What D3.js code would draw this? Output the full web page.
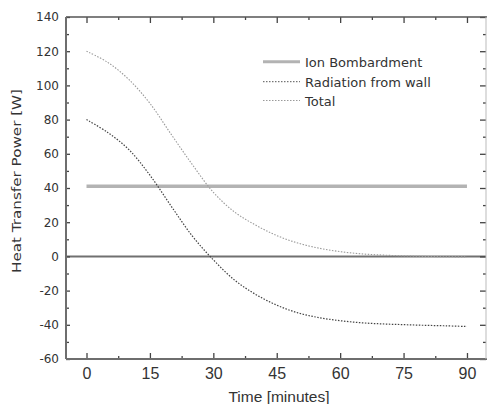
<!DOCTYPE html>
<html>
<head>
<meta charset="utf-8">
<script src="https://cdn.jsdelivr.net/npm/d3@7"></script>
<style>
  html, body { margin: 0; padding: 0; background: #fff; }
  svg { display: block; }
</style>
</head>
<body>
<svg id="chart" width="487" height="404"></svg>
<script>
// Heat transfer power during cool-down, sampled every 5 minutes
const minutes = [0, 5, 10, 15, 20, 25, 30, 35, 40, 45, 50, 55, 60, 65, 70, 75, 80, 85, 90];
const radiationFromWall = [80, 72.5, 62.5, 47.5, 29.5, 12, -2, -13.8, -22.2, -28.5, -33, -35.8, -37.6, -38.8, -39.5, -39.9, -40.3, -40.6, -41];
const totalPower = [120, 113.5, 103.5, 89.5, 71.5, 53.8, 37.5, 26, 18.3, 12.2, 7.8, 4.8, 2.8, 1.5, 0.8, 0.3, 0, -0.2, -0.3];
// Ion bombardment stays constant over the whole run
const ionMinutes = [0, 90];
const ionBombardment = [41, 41];

const xTicks = [0, 15, 30, 45, 60, 75, 90];
const xMinorTicks = [7.5, 22.5, 37.5, 52.5, 67.5, 82.5];
const yTicks = [-60, -40, -20, 0, 20, 40, 60, 80, 100, 120, 140];
const yMinorTicks = [-50, -30, -10, 10, 30, 50, 70, 90, 110, 130];
const legendLabels = ["Ion Bombardment", "Radiation from wall", "Total"];

const svg = d3.select("#chart");
const plotLeft = 66, plotRight = 486, plotTop = 17, plotBottom = 359;

const x = d3.scaleLinear().domain([-4.85, 94.5]).range([plotLeft, plotRight]);
const y = d3.scaleLinear().domain([-60, 140]).range([plotBottom, plotTop]);

const axisColor = "#6e6e6e";
const plainNumber = d => String(d);

// zero reference line
svg.append("line")
  .attr("x1", plotLeft).attr("x2", plotRight)
  .attr("y1", y(0)).attr("y2", y(0))
  .attr("stroke", "#707070").attr("stroke-width", 2);

// series
const line = d3.line().curve(d3.curveCatmullRom.alpha(0.5));

svg.append("path")
  .attr("d", line(ionMinutes.map((m, i) => [x(m), y(ionBombardment[i])])))
  .attr("fill", "none").attr("stroke", "#b3b3b3").attr("stroke-width", 3.5);

svg.append("path")
  .attr("d", line(minutes.map((m, i) => [x(m), y(totalPower[i])])))
  .attr("fill", "none").attr("stroke", "#9a9a9a").attr("stroke-width", 1.1)
  .attr("stroke-dasharray", "1.5,1.5");

svg.append("path")
  .attr("d", line(minutes.map((m, i) => [x(m), y(radiationFromWall[i])])))
  .attr("fill", "none").attr("stroke", "#444").attr("stroke-width", 1.2)
  .attr("stroke-dasharray", "1.5,1.5");

// axes with inward ticks
function styleAxis(g) {
  g.select(".domain").remove();
  g.selectAll(".tick line").attr("stroke", "#444").attr("stroke-width", 1.3);
}

const bottomAxis = svg.append("g").attr("transform", `translate(0,${plotBottom})`)
  .call(d3.axisBottom(x).tickValues(xTicks).tickSize(-6).tickPadding(9).tickFormat(plainNumber));
styleAxis(bottomAxis);
bottomAxis.selectAll("text").attr("font-family", "Liberation Sans, Arial, sans-serif")
  .attr("font-size", 16).attr("fill", "#333");
svg.append("g").attr("transform", `translate(0,${plotBottom})`)
  .call(d3.axisBottom(x).tickValues(xMinorTicks).tickSize(-3).tickFormat(""))
  .call(styleAxis);

const topAxis = svg.append("g").attr("transform", `translate(0,${plotTop})`)
  .call(d3.axisTop(x).tickValues(xTicks).tickSize(-6).tickFormat(""));
styleAxis(topAxis);
svg.append("g").attr("transform", `translate(0,${plotTop})`)
  .call(d3.axisTop(x).tickValues(xMinorTicks).tickSize(-3).tickFormat(""))
  .call(styleAxis);

const leftAxis = svg.append("g").attr("transform", `translate(${plotLeft},0)`)
  .call(d3.axisLeft(y).tickValues(yTicks).tickSize(-4).tickPadding(7).tickFormat(plainNumber));
styleAxis(leftAxis);
leftAxis.selectAll("text").attr("font-family", "DejaVu Sans, sans-serif")
  .attr("font-size", 12).attr("fill", "#333");
svg.append("g").attr("transform", `translate(${plotLeft},0)`)
  .call(d3.axisLeft(y).tickValues(yMinorTicks).tickSize(-3).tickFormat(""))
  .call(styleAxis);

svg.append("g").attr("transform", `translate(${plotRight},0)`)
  .call(d3.axisRight(y).tickValues(yTicks).tickSize(-6).tickFormat(""))
  .call(styleAxis);
svg.append("g").attr("transform", `translate(${plotRight},0)`)
  .call(d3.axisRight(y).tickValues(yMinorTicks).tickSize(-3).tickFormat(""))
  .call(styleAxis);

// frame
svg.append("line").attr("x1", plotLeft).attr("x2", plotRight + 1).attr("y1", plotBottom).attr("y2", plotBottom)
  .attr("stroke", axisColor).attr("stroke-width", 2.2);
svg.append("line").attr("x1", plotLeft).attr("x2", plotRight + 1).attr("y1", plotTop).attr("y2", plotTop)
  .attr("stroke", "#555").attr("stroke-width", 1.6);
svg.append("line").attr("x1", plotLeft).attr("x2", plotLeft).attr("y1", plotTop).attr("y2", plotBottom)
  .attr("stroke", axisColor).attr("stroke-width", 2);
svg.append("line").attr("x1", plotRight).attr("x2", plotRight).attr("y1", plotTop).attr("y2", plotBottom)
  .attr("stroke", "#bbb").attr("stroke-width", 1);

// axis titles
svg.append("text")
  .attr("x", (plotLeft + plotRight) / 2 + 3).attr("y", 402)
  .attr("text-anchor", "middle")
  .attr("font-family", "Liberation Sans, Arial, sans-serif").attr("font-size", 15.5)
  .attr("fill", "#333")
  .text("Time [minutes]");

svg.append("text")
  .attr("transform", "translate(21,181) rotate(-90)")
  .attr("text-anchor", "middle")
  .attr("font-family", "DejaVu Sans, sans-serif").attr("font-size", 12.5)
  .attr("fill", "#333")
  .attr("textLength", 184).attr("lengthAdjust", "spacingAndGlyphs")
  .text("Heat Transfer Power [W]");

// legend
const legendStyles = [
  { stroke: "#b3b3b3", width: 3, dash: null },
  { stroke: "#555", width: 1, dash: "1.5,1.5" },
  { stroke: "#9a9a9a", width: 1, dash: "1.5,1.5" }
];
const legendRowY = [61.7, 81.7, 100.5];
const legend = svg.append("g");
legendLabels.forEach((label, i) => {
  const s = legendStyles[i];
  legend.append("line")
    .attr("x1", 263).attr("x2", 300)
    .attr("y1", legendRowY[i]).attr("y2", legendRowY[i])
    .attr("stroke", s.stroke).attr("stroke-width", s.width)
    .attr("stroke-dasharray", s.dash);
  legend.append("text")
    .attr("x", 305).attr("y", legendRowY[i] + 5)
    .attr("font-family", "DejaVu Sans, sans-serif").attr("font-size", 13)
    .attr("fill", "#333")
    .text(label);
});
</script>
</body>
</html>
